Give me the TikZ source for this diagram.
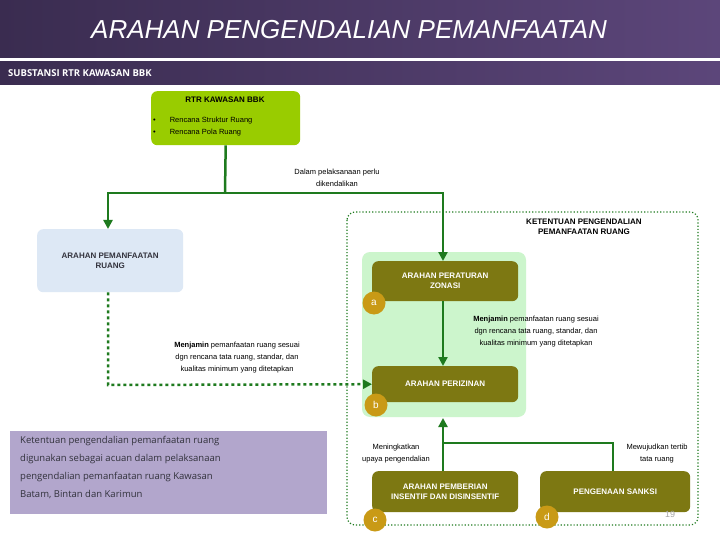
\documentclass[tikz,border=0pt]{standalone}
\usepackage{fontspec}
\setmainfont{Liberation Sans}
\newfontfamily\ob{Open Sans}
\usetikzlibrary{arrows.meta}
\definecolor{olv}{HTML}{7D7812}
\definecolor{grn}{HTML}{1E7A1E}
\definecolor{gold}{HTML}{C99A16}
\definecolor{pa}{RGB}{58,44,80}
\definecolor{pb}{RGB}{92,70,122}
\definecolor{lime}{RGB}{153,204,0}
\definecolor{lgrn}{RGB}{204,245,204}
\definecolor{lblue}{RGB}{221,232,245}
\definecolor{dtx}{RGB}{50,50,60}
\definecolor{lpur}{RGB}{178,166,204}
\tikzset{x=1pt,y=-1pt,
 obox/.style={draw=none,fill=olv,rounded corners=6pt,text=white,font=\fontsize{8}{10}\selectfont\bfseries,align=center,minimum width=146pt,anchor=north west},
 lbl/.style={circle,fill=gold,text=white,inner sep=0pt,minimum size=23pt,font=\fontsize{10}{11}\selectfont},
 gl/.style={draw=grn,line width=2.5pt},
 arr/.style={gl,-{Triangle[length=9pt,width=9pt]}},
 small/.style={font=\fontsize{7.5}{12}\selectfont,align=center,inner sep=0pt}}
\begin{document}
\begin{tikzpicture}
\useasboundingbox (0,0) rectangle (720,540);
\fill[white] (0,0) rectangle (720,540);
\shade[left color=pa, right color=pb] (0,0) rectangle (720,58);
\shade[left color=pa, right color=pb] (0,62) rectangle (720,85);
\begin{scope}
\clip (0,0) rectangle (720,58);
\node[anchor=west,text=white,font=\fontsize{26}{28}\selectfont\itshape,inner sep=0pt] (title) at (91,30) {ARAHAN PENGENDALIAN PEMANFAATAN};
\end{scope}
\node[anchor=west,text=white,font=\ob\fontsize{9.5}{11}\selectfont\bfseries,inner sep=0pt] (sub) at (8,73) {SUBSTANSI RTR KAWASAN BBK};
% RTR box
\node[fill=lime,rounded corners=6pt,minimum width=149pt,minimum height=54pt,anchor=north west] (rtr) at (151,91) {};
\node[font=\fontsize{8}{10}\selectfont\bfseries] (rtrt) at (225,100) {RTR KAWASAN BBK};
\node[font=\fontsize{7.5}{12}\selectfont,align=left,anchor=north west,inner sep=0pt] (rtrb) at (153,117) {\textbullet\hspace{14pt}Rencana Struktur Ruang\\ \textbullet\hspace{14pt}Rencana Pola Ruang};
% dotted region
\draw[grn,line width=1.2pt,dotted,rounded corners=8pt] (347,212) rectangle (698,525);
\node[font=\fontsize{8}{10}\selectfont\bfseries,align=center] (ket) at (584,227) {KETENTUAN PENGENDALIAN\\PEMANFAATAN RUANG};
\fill[lgrn,rounded corners=8pt] (362,252) rectangle (526,417);
% boxes
\node[obox,minimum height=40pt] (zon) at (372,261) {ARAHAN PERATURAN\\ZONASI};
\node[obox,minimum height=36pt] (izin) at (372,366) {ARAHAN PERIZINAN};
\node[obox,minimum height=41pt] (ins) at (372,471) {ARAHAN PEMBERIAN\\INSENTIF DAN DISINSENTIF};
\node[obox,minimum height=41pt,minimum width=150pt] (sank) at (540,471) {PENGENAAN SANKSI};
\node[lbl] (ca) at (374,303) {a};
\node[lbl] (cb) at (376,405) {b};
\node[lbl] (cc) at (375,520) {c};
\node[lbl] (cd) at (547,517) {d};
\node[text=gray!70,font=\fontsize{9}{10}\selectfont] (pg) at (670,514) {19};
% pemanfaatan box
\node[fill=lblue,rounded corners=6pt,minimum width=146pt,minimum height=63pt,anchor=north west,font=\fontsize{8}{10}\selectfont\bfseries,align=center,text=dtx] (pem) at (37,229) {ARAHAN PEMANFAATAN\\RUANG};
% connectors
\coordinate (j) at (225,193);
\coordinate (jl) at (108,193);
\coordinate (jr) at (443,193);
\draw[gl] (rtr.south) -- (j);
\draw[arr] (j) -- (jl) -- (pem.north -| jl);
\draw[arr] (j) -- (jr) -- (zon.north -| jr);
\node[small] (dal) at (337,178) {Dalam pelaksanaan perlu\\dikendalikan};
\draw[arr] (zon.south -| jr) -- (izin.north -| jr);
\coordinate (dl) at (108,385);
\draw[arr,dashed] (pem.south -| dl) -- (dl) -- (izin.west);
\node[small] (m1) at (237,358) {\textbf{Menjamin} pemanfaatan ruang sesuai\\dgn rencana tata ruang, standar, dan\\kualitas minimum yang ditetapkan};
\node[small] (m2) at (536,332) {\textbf{Menjamin} pemanfaatan ruang sesuai\\dgn rencana tata ruang, standar, dan\\kualitas minimum yang ditetapkan};
\coordinate (h) at (443,443);
\coordinate (hr) at (613,443);
\draw[arr] (ins.north -| h) -- (443,418);
\draw[gl] (h) -- (hr) -- (sank.north -| hr);
\node[small] (mn) at (396,454) {Meningkatkan\\upaya pengendalian};
\node[small] (mw) at (657,454) {Mewujudkan tertib\\tata ruang};
% bottom left box
\node[fill=lpur,minimum width=317pt,minimum height=83pt,anchor=north west] (kb) at (10,431) {};
\node[anchor=north west,align=left,font=\ob\fontsize{9.5}{18}\selectfont,text=dtx,inner sep=0pt] (kt) at (20,436) {Ketentuan pengendalian pemanfaatan ruang\\digunakan sebagai acuan dalam pelaksanaan\\pengendalian pemanfaatan ruang Kawasan\\Batam, Bintan dan Karimun};
\end{tikzpicture}
\end{document}
